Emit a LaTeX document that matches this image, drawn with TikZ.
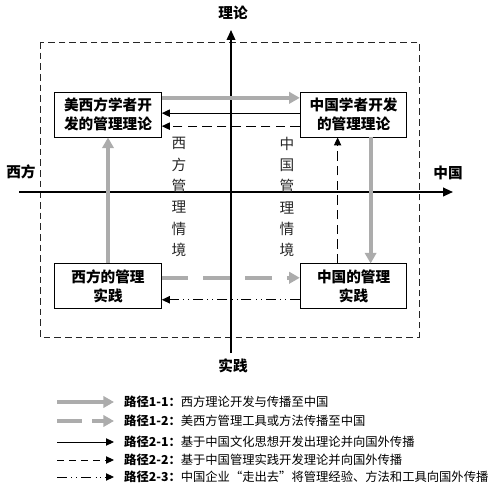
\documentclass[tikz,border=0pt]{standalone}
\usepackage{fontspec}
\setmainfont{Noto Sans CJK SC}
\usepackage{tikz}
\usetikzlibrary{arrows.meta, positioning, calc}
\definecolor{pathgray}{RGB}{172,172,172}
\tikzset{
    mgmtbox/.style={rectangle, draw=black, fill=white, line width=0.8pt, minimum width=3.2cm, minimum height=1.35cm, align=center, inner sep=2pt, font=\bfseries\fontsize{12.5}{16}\selectfont},
    axislabel/.style={inner sep=1pt, font=\bfseries\fontsize{12.5}{15}\selectfont},
    ctxtext/.style={align=center, inner sep=0pt, text=black!85, font=\fontsize{12.5}{18.2}\selectfont},
    legtext/.style={anchor=west, inner sep=0pt, font=\fontsize{10.5}{12}\selectfont},
    axisarrow/.style={-{Triangle[length=3mm, width=2.6mm]}, line width=1.6pt},
    grayarrow/.style={-{Triangle[length=3.2mm, width=3.4mm]}, pathgray, line width=3.6pt},
    graydarrow/.style={grayarrow, dash pattern=on 0.8cm off 0.45cm},
    blkarrow/.style={-{Triangle[length=2.4mm, width=2.2mm]}, line width=0.8pt},
    blkdarrow/.style={blkarrow, dash pattern=on 2.8mm off 1.6mm},
    blkddarrow/.style={blkarrow, dash pattern=on 3mm off 1.3mm on 0.5pt off 1.3mm on 0.5pt off 1.3mm},
    scopeframe/.style={draw=black!85, line width=0.7pt, dash pattern=on 2mm off 1.2mm}
}

\begin{document}
\begin{tikzpicture}[x=0.03cm, y=-0.03cm]
\useasboundingbox (0,0) rectangle (502,484);

% dashed frame and axes
\draw[scopeframe] (40,42) rectangle (419,337);

\coordinate (xwest) at (19,192);
\coordinate (xeast) at (453,192);
\coordinate (ybot) at (231,353);
\coordinate (ytop) at (231,30);
\draw[axisarrow] (xwest) -- (xeast);
\draw[axisarrow, line width=1.2pt] (ybot) -- (ytop);

\node[axislabel] (lbltheory) at (233,13) {理论};
\node[axislabel] (lblpractice) at (233,366) {实践};
\node[axislabel] (lblwest) at (21,172) {西方};
\node[axislabel] (lblchina) at (448,173) {中国};

% context labels
\node[ctxtext] (wctx) at (179,197) {西\\方\\管\\理\\情\\境};
\node[ctxtext] (cctx) at (287,197) {中\\国\\管\\理\\情\\境};

% four blocks
\node[mgmtbox] (wtheory) at (108,114.5) {美西方学者开\\发的管理理论};
\node[mgmtbox, right=4.14cm of wtheory] (ctheory) {中国学者开发\\的管理理论};
\node[mgmtbox, below=3.78cm of wtheory] (wpractice) {西方的管理\\实践};
\node[mgmtbox, below=3.78cm of ctheory] (cpractice) {中国的管理\\实践};

% path 1-1
\draw[grayarrow] (wpractice) -- (wtheory);
\draw[grayarrow] ([yshift=0.5cm]wtheory.east) -- ([yshift=0.5cm]ctheory.west);
\draw[grayarrow] ([xshift=0.51cm]ctheory.south) -- ([xshift=0.51cm]cpractice.north);
% path 1-2
\draw[graydarrow] ([yshift=0.26cm]wpractice.east) -- ([yshift=0.26cm]cpractice.west);
% path 2-1
\draw[blkarrow] ([yshift=0.04cm]ctheory.west) -- ([yshift=0.04cm]wtheory.east);
% path 2-2
\draw[blkdarrow] ([yshift=-0.35cm]ctheory.west) -- ([yshift=-0.35cm]wtheory.east);
\draw[blkdarrow] ([xshift=-0.48cm]cpractice.north) -- ([xshift=-0.48cm]ctheory.south);
% path 2-3
\draw[blkddarrow] ([yshift=-0.4cm]cpractice.west) -- ([yshift=-0.4cm]wpractice.east);

% legend
\node[legtext] (leg11) at (124,402) {\textbf{路径1-1：}西方理论开发与传播至中国};
\node[legtext] (leg12) at (124,421) {\textbf{路径1-2：}美西方管理工具或方法传播至中国};
\node[legtext] (leg21) at (124,442) {\textbf{路径2-1：}基于中国文化思想开发出理论并向国外传播};
\node[legtext] (leg22) at (124,460) {\textbf{路径2-2：}基于中国管理实践开发理论并向国外传播};
\node[legtext] (leg23) at (124,477) {\textbf{路径2-3：}中国企业“走出去”将管理经验、方法和工具向国外传播};

\coordinate (leg11s) at (57,402);
\coordinate (leg12s) at (57,421);
\coordinate (leg21s) at (57,442);
\coordinate (leg22s) at (57,460);
\coordinate (leg23s) at (57,477);
\draw[grayarrow] (leg11s) -- ([xshift=-0.3cm]leg11.west);
\draw[graydarrow, dash pattern=on 0.75cm off 0.3cm] (leg12s) -- ([xshift=-0.3cm]leg12.west);
\draw[blkarrow] (leg21s) -- ([xshift=-0.3cm]leg21.west);
\draw[blkdarrow, dash pattern=on 2.2mm off 1.4mm] (leg22s) -- ([xshift=-0.3cm]leg22.west);
\draw[blkddarrow] (leg23s) -- ([xshift=-0.3cm]leg23.west);

\end{tikzpicture}
\end{document}
